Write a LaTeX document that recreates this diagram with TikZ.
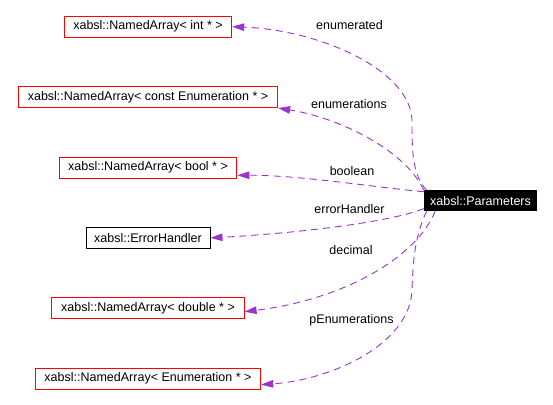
\documentclass[tikz,border=0pt]{standalone}
\usepackage{fontspec}
\setmainfont{Liberation Sans}
\usetikzlibrary{arrows.meta,positioning}
\definecolor{usagepurple}{HTML}{9A32CD}
\definecolor{docred}{HTML}{FF0000}
\tikzset{
  classbox/.style={
    draw=docred,
    fill=white,
    line width=0.9pt,
    minimum height=21pt,
    inner sep=0pt,
    font=\fontsize{12.5}{15}\selectfont
  },
  plainbox/.style={
    classbox,
    draw=black
  },
  mainbox/.style={
    classbox,
    draw=black,
    fill=black,
    text=white,
    minimum height=20pt
  },
  usage/.style={
    -{Triangle[length=12pt,width=7.5pt]},
    line width=0.9pt,
    draw=usagepurple,
    dash pattern=on 7pt off 5pt
  },
  edgelabel/.style={
    inner sep=0pt,
    font=\fontsize{12.5}{15}\selectfont
  }
}

\begin{document}
\begin{tikzpicture}[x=1pt,y=-1pt,node distance=48.5pt]
\useasboundingbox (0,0) rectangle (553,404);
\node[classbox, minimum width=167.5pt] (intarr) at (148,26.7) {xabsl::NamedArray< int * >};
\node[classbox, minimum width=259.4pt, below=of intarr] (constenum) {xabsl::NamedArray< const Enumeration * >};
\node[classbox, minimum width=177.7pt, below=of constenum] (boolarr) {xabsl::NamedArray< bool * >};
\node[plainbox, minimum width=124pt, below=of boolarr] (errh) {xabsl::ErrorHandler};
\node[classbox, minimum width=192.2pt, below=of errh] (dblarr) {xabsl::NamedArray< double * >};
\node[classbox, minimum width=225.5pt, below=of dblarr] (enumarr) {xabsl::NamedArray< Enumeration * >};
\node[mainbox, minimum width=112.4pt] (params) at (480.5,200.7) {xabsl::Parameters};

% member labels
\node[edgelabel] (lenumerated) at (349.5,25) {enumerated};
\node[edgelabel] (lenumerations) at (349,104) {enumerations};
\node[edgelabel] (lboolean) at (352,171) {boolean};
\node[edgelabel] (lerror) at (349.5,209) {errorHandler};
\node[edgelabel] (ldecimal) at (351,250) {decimal};
\node[edgelabel] (lpenum) at (351.5,320) {pEnumerations};

\draw[usage] (params.169.2) .. controls (412,175) and (412,150) .. (412,120)
  .. controls (410,70) and (320,30) .. (intarr.east);
\draw[usage] (params.north west) .. controls (405,150) and (340,118) .. (constenum.south east);
\draw[usage] (params.171) .. controls (380,188) and (300,175) .. (boolarr.-5);
\draw[usage] (params.188) .. controls (390,222) and (300,233) .. (errh.east);
\draw[usage] (params.193) .. controls (415,260) and (340,300) .. (dblarr.-2);
\draw[usage] (params.191.6) .. controls (415,235) and (413,260) .. (412,290)
  .. controls (410,345) and (330,380) .. (enumarr.-3);
\end{tikzpicture}
\end{document}
